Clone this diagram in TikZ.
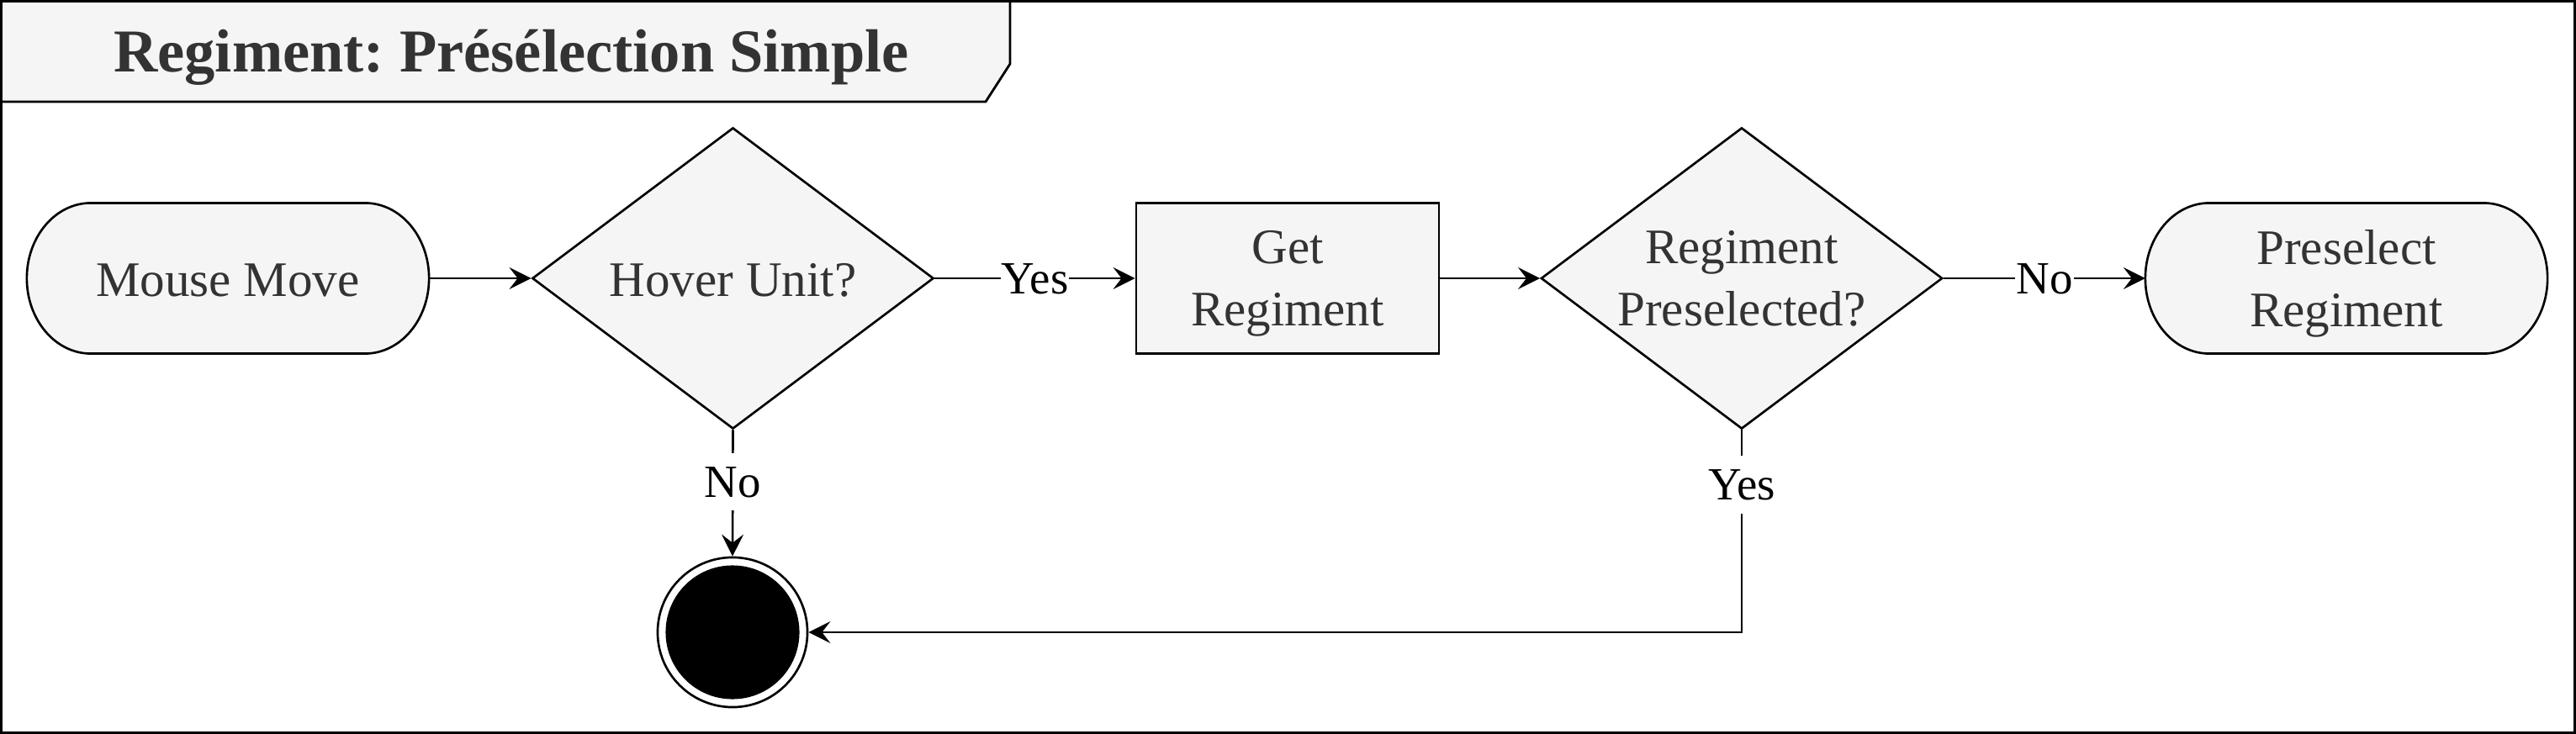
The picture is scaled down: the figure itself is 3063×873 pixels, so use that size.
\documentclass[tikz,border=0pt]{standalone}
\usepackage{fontspec}
\setmainfont{Liberation Serif}
\usetikzlibrary{shapes.geometric,arrows.meta,backgrounds}
\definecolor{fillg}{HTML}{F5F5F5}
\definecolor{txtg}{HTML}{333333}
\newcommand\stadiumbg[1]{%
  \begin{pgfonlayer}{background}
  \draw[stadline] ([xshift=0.76cm]#1.north west) -- ([xshift=-0.76cm]#1.north east)
    arc[start angle=90,end angle=-90,x radius=0.76cm,y radius=0.895cm]
    -- ([xshift=0.76cm]#1.south west)
    arc[start angle=270,end angle=90,x radius=0.76cm,y radius=0.895cm] -- cycle;
  \end{pgfonlayer}}
\begin{document}
\begin{tikzpicture}[x=0.01cm,y=-0.01cm,
  every node/.style={font=\fontsize{16.8}{21}\selectfont, text=txtg},
  stadline/.style={draw=black, fill=fillg, line width=0.75pt},
  term/.style={minimum width=4.78cm, minimum height=1.79cm, align=center, inner sep=0, outer sep=0, text depth=0pt},
  proc/.style={draw=black, fill=fillg, line width=0.75pt, minimum width=3.6cm, minimum height=1.79cm, align=center, inner sep=0, text depth=0pt},
  dec/.style={diamond, draw=black, fill=fillg, line width=0.75pt, minimum width=4.77cm, minimum height=3.58cm, inner sep=0},
  dectxt/.style={align=center, text=txtg, text depth=0pt},
  oneline/.style={text height=12.3pt, text depth=0pt},
  conn/.style={line width=0.75pt, -{Stealth[length=0.26cm,width=0.26cm,inset=0.1cm]}},
  elab/.style={fill=white, text=black, font=\fontsize{15.6}{18}\selectfont, inner xsep=0.3pt, inner ysep=0pt, text height=15pt, text depth=4.5pt},
  finalnode/.style={circle, draw=black, fill=white, line width=0.75pt, minimum size=1.78cm, inner sep=0,
    path picture={\fill[black] (path picture bounding box.center) circle (0.795cm);}},
]
\useasboundingbox (0,0) rectangle (3063,873);
% title tab
\draw[fill=fillg, line width=0.8pt] (1.5,1.5) -- (1201,1.5) -- (1201,76) -- (1172,121) -- (1.5,121) -- cycle;
\node[font=\bfseries\fontsize{20.6}{24}\selectfont\frenchspacing, anchor=base, text=txtg] (title) at (608,86) {Regiment: Présélection Simple};
% frame
\draw[line width=0.85pt] (1.5,1.5) rectangle (3061.5,871.5);
% nodes
\node[term, oneline] (mm) at (271,331) {Mouse Move};
\stadiumbg{mm}
\node[dec, label={[dectxt, oneline]center:Hover Unit?}] (d1) at (871.5,331) {};
\node[proc] (gr) at (1531,331) {Get\\Regiment};
\node[dec, label={[dectxt]center:Regiment\\Preselected?}] (d2) at (2071,331) {};
\node[term] (ps) at (2790,331) {Preselect\\Regiment};
\stadiumbg{ps}
\node[finalnode] (end) at (871,752) {};
% connectors
\draw[conn] (mm.east) -- (d1.west);
\draw[conn] (d1.east) -- node[elab]{Yes} (gr.west);
\draw[conn] (gr.east) -- (d2.west);
\draw[conn] (d2.east) -- node[elab]{No} (ps.west);
\draw[conn] (d1.south) -- node[elab,pos=0.41]{No} (end.north);
\draw[conn] (d2.south) -- node[elab,pos=0.27]{Yes} (d2.south |- end.east) -- (end.east);
\end{tikzpicture}
\end{document}
